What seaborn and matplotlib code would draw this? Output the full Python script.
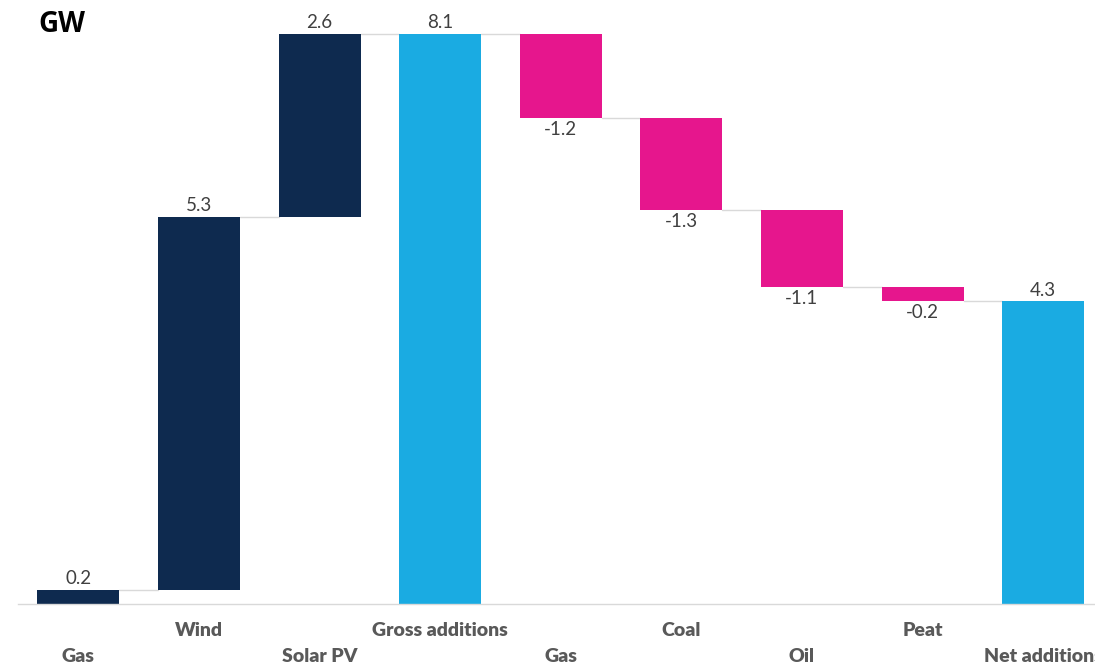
import pandas as pd
import seaborn as sns
import matplotlib.pyplot as plt

# waterfall data (GW)
labels = ['Gas', 'Wind', 'Solar PV', 'Gross additions', 'Gas', 'Coal', 'Oil', 'Peat', 'Net additions']
values = [0.2, 5.3, 2.6, 8.1, -1.2, -1.3, -1.1, -0.2, 4.3]
kinds = ['add', 'add', 'add', 'total', 'remove', 'remove', 'remove', 'remove', 'total']

colors = {'add': '#0E2A4F', 'total': '#1AABE2', 'remove': '#E6168D'}

# running level for the floating bars
bottoms, heights, levels = [], [], []
level = 0.0
for v, k in zip(values, kinds):
    if k == 'total':
        bottoms.append(0.0)
        heights.append(v)
        level = v
    elif v >= 0:
        bottoms.append(level)
        heights.append(v)
        level += v
    else:
        bottoms.append(level + v)
        heights.append(-v)
        level += v
    levels.append(level)

df = pd.DataFrame({
    'key': [f'{i}_{l}' for i, l in enumerate(labels)],
    'height': heights,
    'bottom': bottoms,
    'kind': kinds,
})

sns.set_style('white')
plt.rcParams['font.family'] = ['Lato', 'DejaVu Sans']

fig = plt.figure(figsize=(10.95, 6.63), dpi=100)
ax = fig.add_axes([18 / 1095, 59 / 663, 1 - 18 / 1095, 604 / 663])

bw = 0.68
sns.barplot(data=df, x='key', y='height', bottom=df['bottom'].to_numpy(),
            width=bw, color=colors['add'], errorbar=None, ax=ax)
for p, k in zip(ax.patches, kinds):
    p.set_facecolor(colors[k])
    p.set_edgecolor(colors[k])
    p.set_linewidth(0)

# connectors
for i in range(len(values) - 1):
    ax.plot([i + bw / 2, i + 1 - bw / 2], [levels[i], levels[i]],
            color='#D9D9D9', lw=1, zorder=0)

# value labels
for i, (v, b, h) in enumerate(zip(values, bottoms, heights)):
    if v >= 0:
        ax.annotate(f'{v:.1f}', (i, b + h), xytext=(0, 2), textcoords='offset points',
                    ha='center', va='bottom', fontsize=13.5, color='#404040')
    else:
        ax.annotate(f'{v:.1f}', (i, b), xytext=(0, -2), textcoords='offset points',
                    ha='center', va='top', fontsize=13.5, color='#404040')

ax.set_xlim(-0.5, 8.43)
ax.set_ylim(0, 8.58)
ax.set_xlabel('')
ax.set_ylabel('')
ax.set_yticks([])
ax.set_xticks(range(len(labels)))
ax.set_xticklabels(labels, fontsize=14, fontweight='heavy', color='#595959')
for i, t in enumerate(ax.get_xticklabels()):
    t.set_y(0 if i % 2 else -0.043)
ax.tick_params(axis='x', length=0, pad=13)

for s in ['top', 'right', 'left']:
    ax.spines[s].set_visible(False)
ax.spines['bottom'].set_color('#D9D9D9')
ax.spines['bottom'].set_linewidth(1)

fig.text(38 / 1095, 1 - 25 / 663, 'GW', fontsize=20, fontweight='bold',
         family=['Open Sans', 'DejaVu Sans'], va='center', ha='left', color='black')

fig.savefig('out.png', dpi=100)
